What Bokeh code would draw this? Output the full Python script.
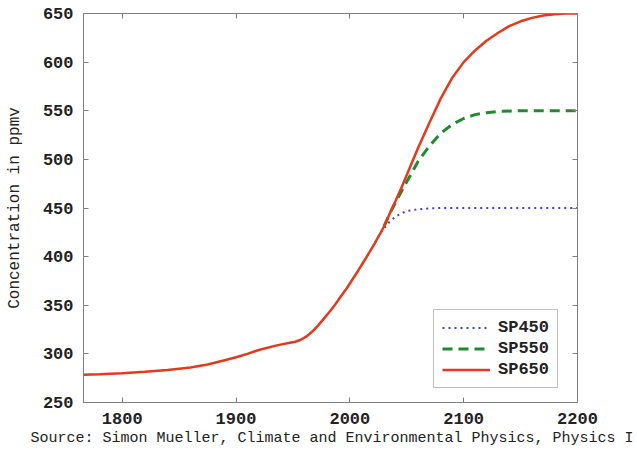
from bokeh.plotting import figure
from bokeh.models import (Range1d, LinearAxis, Legend, LegendItem, Title, FixedTicker,
                          CustomLabelingPolicy)
from bokeh.embed import file_html
from bokeh.resources import INLINE

# ---- data ----
years_650 = [1766, 1780, 1800, 1820, 1840, 1860, 1875, 1890, 1900, 1910, 1920, 1935, 1945,
             1952, 1957, 1962, 1967, 1972, 1977, 1982, 1987, 1992, 1997, 2002, 2007, 2012,
             2017, 2022, 2027, 2030, 2035, 2040, 2045, 2050, 2055, 2060, 2070, 2080, 2090,
             2100, 2110, 2120, 2130, 2140, 2150, 2160, 2170, 2180, 2190, 2200]
sp650 = [278.5, 279, 280, 281.5, 283.5, 286, 289, 293.5, 296.5, 300, 304, 308.5, 311,
         312.5, 314.5, 318, 323, 329, 336, 343, 350.5, 359, 367, 376, 385, 394.5,
         404, 414, 424.5, 431, 444, 457, 470, 484, 498, 512, 538, 563, 584,
         600, 612, 622, 630, 637, 642, 645.5, 648, 649.3, 650, 650]

years_550 = [2030, 2035, 2040, 2045, 2050, 2060, 2070, 2080, 2090, 2100, 2110, 2120,
             2130, 2150, 2200]
sp550 = [431, 444, 455.5, 466.5, 477, 498, 514, 527, 536, 542, 546, 548,
         549.3, 550, 550]

years_450 = [2022, 2027, 2030, 2035, 2040, 2045, 2050, 2060, 2070, 2080, 2200]
sp450 = [414, 424.5, 429, 436, 441, 444.5, 446.8, 448.7, 449.6, 450, 450]

x_ticks = [1800, 1900, 2000, 2100, 2200]
y_ticks = [250, 300, 350, 400, 450, 500, 550, 600, 650]
series_names = ["SP450", "SP550", "SP650"]
y_label = "Concentration in ppmv"
source_text = "Source: Simon Mueller, Climate and Environmental Physics, Physics I"

MONO = "Liberation Mono"
GRAY = "#808080"

p = figure(width=637, height=451, output_backend="svg", toolbar_location=None,
           x_range=Range1d(1766, 2200), y_range=Range1d(250, 650),
           min_border_left=83, min_border_right=60, min_border_top=13, min_border_bottom=49)
p.background_fill_color = "white"
p.border_fill_color = "white"
p.outline_line_color = GRAY
p.xgrid.visible = False
p.ygrid.visible = False

r450 = p.line(years_450, sp450, line_color="#4545b8", line_width=2, line_dash="2 4")
r550 = p.line(years_550, sp550, line_color="#1f8a30", line_width=3, line_dash="10 6")
r650 = p.line(years_650, sp650, line_color="#e5391b", line_width=2.5)

hide_all = CustomLabelingPolicy(code="""
    for (const i of indices) {
        indices.unset(i)
    }
    return indices
""")

def style_axis(ax, ticks, show_labels=True):
    ax.ticker = FixedTicker(ticks=ticks)
    ax.axis_line_color = GRAY
    ax.major_tick_line_color = GRAY
    ax.major_tick_in = 5
    ax.major_tick_out = 0
    ax.minor_tick_line_color = None
    if show_labels:
        ax.major_label_text_font = MONO
        ax.major_label_text_font_size = "17px"
        ax.major_label_text_font_style = "bold"
        ax.major_label_text_color = "#222222"
    else:
        ax.major_label_policy = hide_all
        ax.major_label_text_font_size = "1px"
        ax.major_label_standoff = 0

style_axis(p.xaxis[0], x_ticks)
style_axis(p.yaxis[0], y_ticks)
p.xaxis[0].major_label_standoff = 10
p.yaxis[0].major_label_standoff = 10
p.yaxis[0].axis_label = y_label
p.yaxis[0].axis_label_text_font = MONO
p.yaxis[0].axis_label_text_font_size = "16px"
p.yaxis[0].axis_label_text_font_style = "normal"
p.yaxis[0].axis_label_text_color = "#222222"
p.yaxis[0].axis_label_standoff = 16

ax_r = LinearAxis()
style_axis(ax_r, y_ticks, show_labels=False)
p.add_layout(ax_r, "right")
ax_t = LinearAxis()
style_axis(ax_t, x_ticks, show_labels=False)
p.add_layout(ax_t, "above")

legend = Legend(items=[LegendItem(label=series_names[0], renderers=[r450]),
                       LegendItem(label=series_names[1], renderers=[r550]),
                       LegendItem(label=series_names[2], renderers=[r650])],
                location=(350, 14))
legend.label_text_font = MONO
legend.label_text_font_size = "17px"
legend.label_text_font_style = "bold"
legend.label_text_color = "#222222"
legend.glyph_width = 48
legend.glyph_height = 19
legend.label_height = 19
legend.label_standoff = 8
legend.spacing = 2
legend.padding = 8
legend.margin = 0
legend.border_line_color = GRAY
legend.border_line_width = 1
legend.background_fill_color = "white"
legend.background_fill_alpha = 1
p.add_layout(legend)

src = Title(text=source_text, align="left", offset=-53, text_font=MONO,
            text_font_size="15px", text_font_style="normal", text_color="#222222", standoff=2)
p.add_layout(src, "below")

open("out.html", "w").write(file_html(p, INLINE))
